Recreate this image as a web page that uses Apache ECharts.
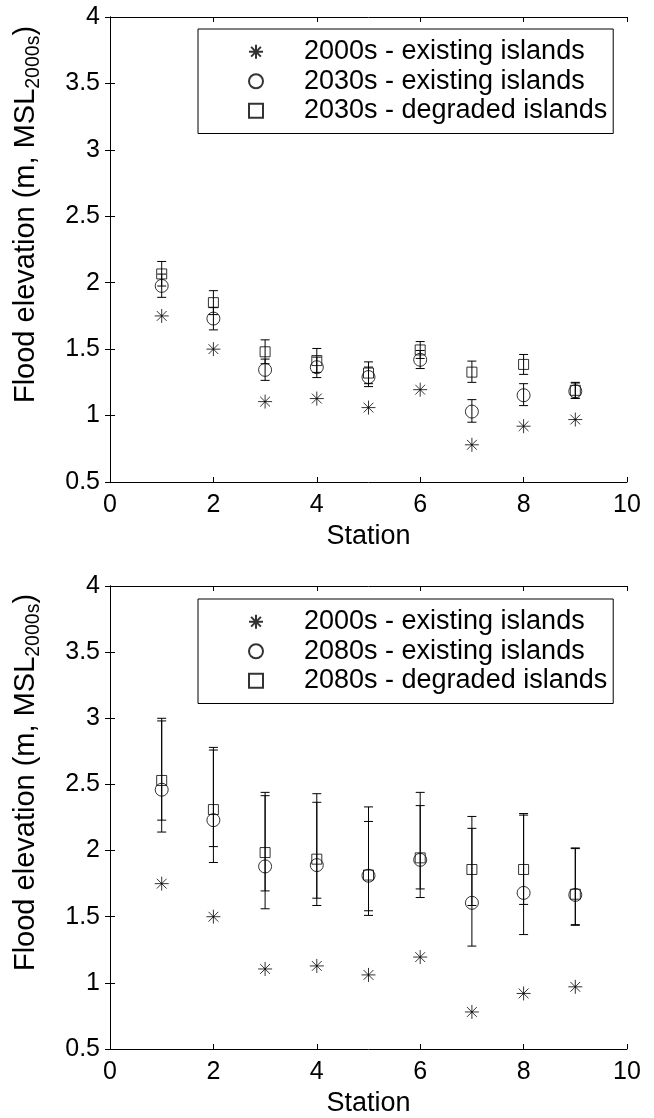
<!DOCTYPE html>
<html>
<head>
<meta charset="utf-8">
<script src="https://cdn.jsdelivr.net/npm/echarts@6/dist/echarts.min.js"></script>
<style>
  html, body { margin: 0; padding: 0; background: #fff; }
  #chart { width: 654px; height: 1118px; }
</style>
</head>
<body>
<div id="chart"></div>
<script>
// station numbers (x axis)
var stations = [1, 2, 3, 4, 5, 6, 7, 8, 9];
var xTicks = [0, 2, 4, 6, 8, 10];
var yTicks = [0.5, 1, 1.5, 2, 2.5, 3, 3.5, 4];

// present day flood elevation, same in both panels
var base2000s = [1.75, 1.50, 1.105, 1.128, 1.06, 1.195, 0.78, 0.92, 0.97];

// top panel: 2030s
var exist2030s = [1.976, 1.73, 1.344, 1.364, 1.29, 1.42, 1.03, 1.153, 1.183];
var exist2030sLow = [1.89, 1.645, 1.265, 1.286, 1.218, 1.354, 0.95, 1.075, 1.13];
var exist2030sHigh = [2.065, 1.815, 1.425, 1.44, 1.365, 1.49, 1.12, 1.24, 1.245];
var degr2030s = [2.066, 1.85, 1.48, 1.414, 1.32, 1.494, 1.327, 1.385, 1.19];
var degr2030sLow = [1.975, 1.76, 1.39, 1.325, 1.24, 1.43, 1.25, 1.31, 1.13];
var degr2030sHigh = [2.16, 1.94, 1.57, 1.505, 1.404, 1.557, 1.41, 1.46, 1.25];

// bottom panel: 2080s
var exist2080s = [2.46, 2.23, 1.88, 1.89, 1.81, 1.93, 1.605, 1.68, 1.665];
var exist2080sLow = [2.14, 1.91, 1.56, 1.585, 1.51, 1.645, 1.278, 1.365, 1.435];
var exist2080sHigh = [2.98, 2.76, 2.415, 2.365, 2.22, 2.34, 2.258, 2.268, 2.015];
var degr2080s = [2.53, 2.31, 1.985, 1.935, 1.815, 1.945, 1.857, 1.857, 1.67];
var degr2080sLow = [2.23, 2.03, 1.695, 1.64, 1.545, 1.71, 1.585, 1.593, 1.44];
var degr2080sHigh = [3.0, 2.78, 2.44, 2.43, 2.33, 2.44, 2.168, 2.28, 2.02];

var names2030 = ['2000s - existing islands', '2030s - existing islands', '2030s - degraded islands'];
var names2080 = ['2000s - existing islands', '2080s - existing islands', '2080s - degraded islands'];

var FONT = 'Liberation Sans, Arial, Helvetica, sans-serif';
// matlab-like open markers
var starPath = 'path://M0,-10L0,10M-10,0L10,0M-7,-7L7,7M-7,7L7,-7';
var squarePath = 'path://M0,0L10,0L10,10L0,10Z';

var chartDom = document.getElementById('chart');
var myChart = echarts.init(chartDom, null, { renderer: 'canvas' });

// join x and y values into [x, y] pairs
function pairs(ys) {
    var out = [];
    for (var i = 0; i < stations.length; i++) {
        out.push([stations[i], ys[i]]);
    }
    return out;
}

function ranges(lows, highs) {
    var out = [];
    for (var i = 0; i < stations.length; i++) {
        out.push([stations[i], lows[i], highs[i]]);
    }
    return out;
}

// error bar with caps
function renderErrorBar(params, api) {
    var x = api.value(0);
    var pLo = api.coord([x, api.value(1)]);
    var pHi = api.coord([x, api.value(2)]);
    var w = 4.5;
    var style = { stroke: '#000', lineWidth: 1 };
    return {
        type: 'group',
        children: [
            { type: 'line', shape: { x1: pLo[0], y1: pLo[1], x2: pHi[0], y2: pHi[1] }, style: style },
            { type: 'line', shape: { x1: pHi[0] - w, y1: pHi[1], x2: pHi[0] + w, y2: pHi[1] }, style: style },
            { type: 'line', shape: { x1: pLo[0] - w, y1: pLo[1], x2: pLo[0] + w, y2: pLo[1] }, style: style }
        ]
    };
}

function errorSeries(id, idx, lows, highs) {
    return {
        id: id,
        type: 'custom',
        xAxisIndex: idx * 2,
        yAxisIndex: idx * 2,
        renderItem: renderErrorBar,
        encode: { x: 0, y: [1, 2] },
        silent: true,
        data: ranges(lows, highs),
        z: 1
    };
}

function markerSeries(name, idx, symbol, size, ys) {
    return {
        name: name,
        type: 'scatter',
        xAxisIndex: idx * 2,
        yAxisIndex: idx * 2,
        symbol: symbol,
        symbolSize: size,
        symbolKeepAspect: true,
        itemStyle: { color: 'rgba(0,0,0,0)', borderColor: '#000', borderWidth: 1 },
        emphasis: { disabled: true },
        data: pairs(ys),
        z: 2
    };
}

// axes for one panel: bottom/left carry labels, top/right only ticks
function xAxes(idx) {
    var common = {
        gridIndex: idx, type: 'value', min: 0, max: 10, interval: 2,
        axisLine: { show: true, lineStyle: { color: '#000', width: 1 } },
        axisTick: { show: true, inside: true, length: 5, lineStyle: { color: '#000' } },
        splitLine: { show: false }
    };
    var bottom = Object.assign({}, common, {
        position: 'bottom',
        name: 'Station',
        nameLocation: 'middle',
        nameGap: 41,
        nameTextStyle: { fontFamily: FONT, fontSize: 27, color: '#000' },
        axisLabel: { show: true, margin: 11, fontFamily: FONT, fontSize: 25, color: '#000' }
    });
    var top = Object.assign({}, common, { position: 'top', axisLabel: { show: false } });
    return [bottom, top];
}

function yAxes(idx) {
    var common = {
        gridIndex: idx, type: 'value', min: 0.5, max: 4, interval: 0.5,
        axisLine: { show: true, lineStyle: { color: '#000', width: 1 } },
        axisTick: { show: true, inside: true, length: 5, lineStyle: { color: '#000' } },
        splitLine: { show: false }
    };
    var left = Object.assign({}, common, {
        position: 'left',
        name: '{a|Flood elevation (m, MSL}{s|2000s}{a|)}',
        nameLocation: 'middle',
        nameRotate: 90,
        nameGap: 68,
        nameTextStyle: {
            fontFamily: FONT, color: '#000',
            padding: [0, 0, 0, 70],
            rich: {
                a: { fontFamily: FONT, fontSize: 29, color: '#000', lineHeight: 32 },
                s: { fontFamily: FONT, fontSize: 19.5, color: '#000', lineHeight: 32, padding: [15, 0, 0, 0] }
            }
        },
        axisLabel: { show: true, margin: 10, fontFamily: FONT, fontSize: 25, color: '#000' }
    });
    var right = Object.assign({}, common, { position: 'right', axisLabel: { show: false } });
    return [left, right];
}

// boxed legend inside the panel, icon at x=255, text from x=305
function legendFor(names, top) {
    return {
        data: names,
        orient: 'vertical',
        left: 198,
        top: top,
        padding: [8, 6, 8, 50],
        itemGap: 0,
        itemWidth: 14,
        itemHeight: 14,
        selectedMode: false,
        backgroundColor: '#fff',
        borderColor: '#000',
        borderWidth: 1,
        borderRadius: 0,
        textStyle: { fontFamily: FONT, fontSize: 27, color: '#000', lineHeight: 29.5, padding: [0, 0, 0, 36] }
    };
}

var option = {
    animation: false,
    backgroundColor: '#fff',
    grid: [
        { left: 110, right: 27, top: 17, height: 465 },
        { left: 110, right: 27, top: 586, height: 465 }
    ],
    xAxis: xAxes(0).concat(xAxes(1)),
    yAxis: yAxes(0).concat(yAxes(1)),
    legend: [legendFor(names2030, 29), legendFor(names2080, 599)],
    series: [
        errorSeries('err30e', 0, exist2030sLow, exist2030sHigh),
        errorSeries('err30d', 0, degr2030sLow, degr2030sHigh),
        markerSeries(names2030[0], 0, starPath, 14, base2000s),
        markerSeries(names2030[1], 0, 'circle', 13, exist2030s),
        markerSeries(names2030[2], 0, squarePath, 10, degr2030s),
        errorSeries('err80e', 1, exist2080sLow, exist2080sHigh),
        errorSeries('err80d', 1, degr2080sLow, degr2080sHigh),
        markerSeries(names2080[0], 1, starPath, 14, base2000s),
        markerSeries(names2080[1], 1, 'circle', 13, exist2080s),
        markerSeries(names2080[2], 1, squarePath, 10, degr2080s)
    ]
};

option && myChart.setOption(option);
window.addEventListener('resize', myChart.resize);
</script>
</body>
</html>
